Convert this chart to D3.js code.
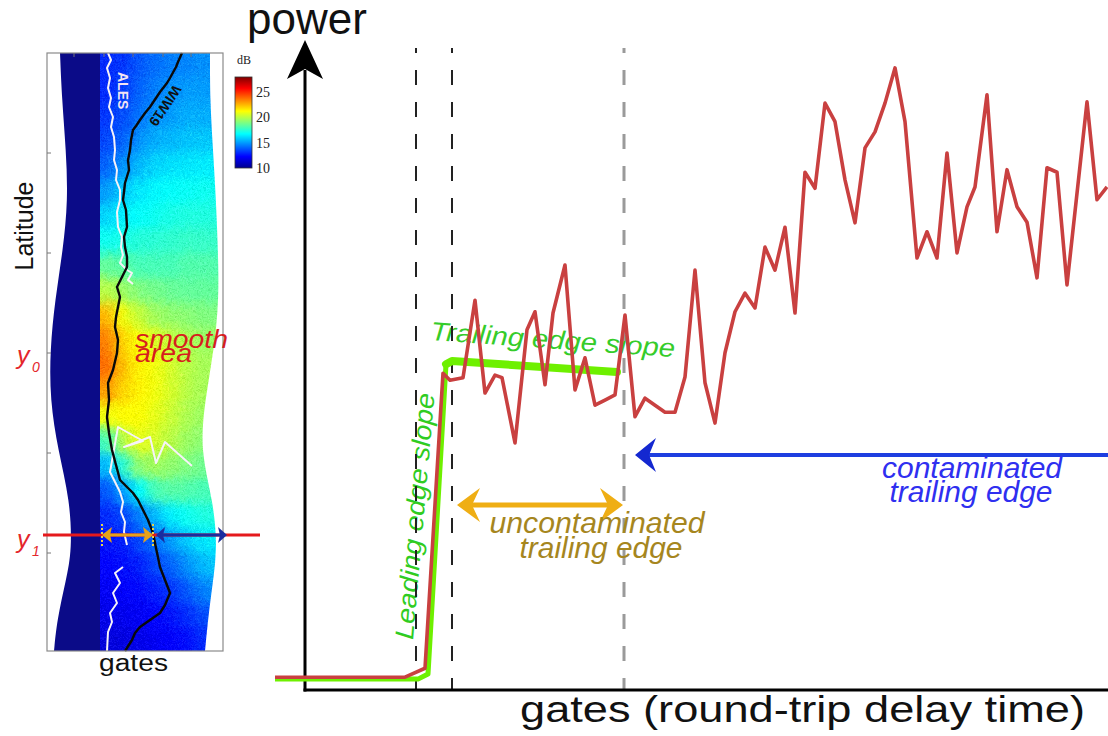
<!DOCTYPE html>
<html>
<head>
<meta charset="utf-8">
<script src="https://cdn.jsdelivr.net/npm/d3@7"></script>
<style>
body{margin:0;background:#fff;}
svg{display:block;font-family:"Liberation Sans",Arial,sans-serif;}
</style>
</head>
<body>
<svg id="chart" width="1108" height="736"></svg>
<script>
/*
data
*/
// waveform (gate, power)
var wfGate = [-3, 10, 12, 13.8, 14.5, 15.8, 17, 18, 19, 19.7, 21, 22.2, 23, 24, 24.8, 26, 27, 28, 29, 30,
  31, 32, 33, 34, 36, 37, 38, 39, 40, 41, 42, 43, 44, 45, 46, 47, 48, 49, 50, 51,
  52, 53, 54, 55, 56, 57, 58, 59, 60, 61.2, 62.2, 63.2, 64.2, 65.2, 66.2, 67, 68.2, 69.2, 70.2, 71.2,
  72.2, 73.2, 74.2, 75.2, 76.2, 78.2, 79.2, 80.2];
var wfPower = [2.0, 2.0, 3.4, 49.5, 48.4, 48.8, 60.9, 46.4, 49.2, 48.8, 38.6, 56.3, 59.1, 47.7, 58.9, 66.4, 46.9, 51.9, 44.5, 45.3,
  46.1, 58.6, 42.7, 45.6, 43.4, 43.4, 48.9, 65.6, 48.0, 41.7, 52.7, 59.1, 62.0, 59.7, 69.2, 65.6, 72.3, 58.9, 80.9, 78.4,
  91.7, 88.8, 79.7, 73.0, 84.7, 87.2, 91.7, 97.2, 88.8, 67.5, 71.6, 67.5, 83.9, 68.3, 75.5, 78.6, 93.0, 71.6, 81.3, 75.5,
  73.1, 64.4, 81.6, 80.9, 63.3, 91.9, 76.6, 78.6];

// fitted leading / trailing edge
var fitGate = [-3, 11.3, 12.3, 14.1, 14.7, 31.2];
var fitPower = [1.7, 1.7, 2.5, 50.9, 51.4, 49.7];

// vertical gate marks
var markGates = [11.1, 14.7, 31.9];

// range arrows
var unconGates = [15.2, 31.8], unconPower = 28.9;
var contGates = [33.0, 80.5], contPower = 36.7;

// radargram swath edges (record, gate)
var navyEdgeRec = [0, 47, 97, 147, 197, 247, 297, 347, 397, 447, 497, 527, 567, 598];
var navyEdgeGate = [6.5, 7.5, 9.5, 10.5, 8, 4, 1.5, 1.5, 5.5, 11.5, 12.5, 9.5, 5, 3.5];
var navyGate = 26.5;
var swathEdgeRec = [0, 47, 97, 147, 197, 247, 297, 347, 397, 447, 497, 547, 598];
var swathEdgeGate = [81.5, 81.5, 83, 84.5, 85.5, 86, 83.5, 79, 76.5, 83, 85.5, 81.5, 79];

// radargram power (dB) on a coarse grid
var dbCols = [30, 38, 46, 54, 62, 70, 78, 86];
var dbRows = [12.5, 37.5, 62.5, 87.5, 112.5, 137.5, 162.5, 187.5, 212.5, 237.5, 262.5, 287.5,
  312.5, 337.5, 362.5, 387.5, 412.5, 437.5, 462.5, 487.5, 512.5, 537.5, 562.5, 587.5];
var dbValues = [
  [13.0, 13.2, 13.8, 14.2, 14.5, 14.6, 14.8, 14.8],
  [13.0, 13.3, 14.0, 14.5, 14.8, 15.0, 15.0, 15.0],
  [13.2, 13.6, 14.3, 14.8, 15.0, 15.3, 15.3, 15.3],
  [13.5, 14.0, 14.8, 15.3, 15.5, 15.7, 15.8, 15.8],
  [14.0, 14.8, 15.5, 16.0, 16.2, 16.3, 16.4, 16.4],
  [15.0, 15.8, 16.3, 16.6, 16.8, 16.9, 17.0, 17.0],
  [16.0, 16.5, 16.8, 17.0, 17.2, 17.3, 17.3, 17.3],
  [17.0, 17.2, 17.4, 17.5, 17.6, 17.7, 17.7, 17.7],
  [18.5, 18.3, 18.0, 18.0, 18.0, 18.2, 18.2, 18.2],
  [20.0, 19.5, 19.0, 18.8, 18.6, 18.5, 18.5, 18.5],
  [22.5, 21.0, 20.2, 19.6, 19.3, 19.2, 19.0, 19.0],
  [23.5, 22.0, 21.2, 20.6, 20.2, 19.8, 19.5, 19.5],
  [23.8, 22.3, 21.5, 21.0, 20.5, 20.0, 19.7, 19.7],
  [23.0, 22.0, 21.5, 21.0, 20.5, 20.0, 19.7, 19.7],
  [21.0, 21.3, 21.2, 20.8, 20.3, 19.8, 19.5, 19.5],
  [18.0, 20.0, 20.8, 20.5, 20.0, 19.5, 19.2, 19.2],
  [15.5, 17.5, 19.3, 19.6, 19.3, 19.0, 18.7, 18.7],
  [13.8, 15.0, 16.8, 18.0, 18.3, 18.2, 18.0, 18.0],
  [13.0, 13.5, 14.5, 15.5, 16.5, 17.0, 17.3, 17.3],
  [12.6, 12.8, 13.5, 14.2, 15.0, 15.8, 16.3, 16.5],
  [12.3, 12.5, 12.8, 13.5, 14.0, 14.8, 15.5, 15.8],
  [12.0, 12.2, 12.4, 12.8, 13.2, 13.8, 14.5, 14.8],
  [11.8, 11.9, 12.0, 12.3, 12.6, 13.0, 13.6, 13.8],
  [11.5, 11.6, 11.8, 12.0, 12.2, 12.5, 13.0, 13.0]
];

// retracker tracks (gate, record)
var wiwGate = [67.5, 65.5, 64.5, 61.5, 60, 56.5, 51.5, 49, 46.5, 44.5, 43, 42, 41.5, 40.5, 41, 39, 38.5, 38, 39.5, 40,
  38.5, 39, 40, 40, 37.5, 35, 36.5, 35.5, 34.5, 34, 35.5, 35, 33, 30.5, 31, 30, 31, 32.5, 34.5, 36.5,
  40.5, 43, 45.5, 48, 50.5, 53, 54.5, 56.5, 59, 61.5, 59, 56.5, 51.5, 46.5, 44, 42.5, 39];
var wiwRec = [0, 9, 14, 25, 30, 39, 54, 60, 67, 73, 77, 87, 97, 107, 117, 130, 139, 147, 157, 174,
  184, 194, 204, 214, 224, 234, 244, 254, 264, 274, 287, 300, 317, 330, 347, 364, 380, 397, 412, 427,
  435, 440, 447, 457, 467, 480, 495, 514, 527, 540, 552, 560, 567, 574, 580, 587, 598];
var alesGateA = [30.5, 32, 30, 31.5, 30.5, 32, 31, 33, 32, 33.5, 34, 33.5, 35, 34.5, 36.5, 36.5, 35, 35.5, 37.5, 37, 38, 36.5, 40, 42.5, 40.5, 43];
var alesRecA = [0, 7, 15, 25, 35, 45, 54, 64, 74, 84, 97, 107, 117, 127, 137, 147, 159, 174, 184, 194, 202, 210, 217, 220, 227, 231];
var alesGateB = [72.5, 59, 54.5, 51.5, 38.5, 48, 35.5, 31.5, 34, 36.5, 38, 37, 39, 38.5, 40];
var alesRecB = [413, 389, 410, 384, 394, 388, 374, 419, 429, 439, 449, 459, 469, 479, 492];
var alesGateC = [38, 34, 36.5, 33, 35, 31.5, 32.5, 30.5, 30];
var alesRecC = [514, 520, 530, 540, 550, 560, 569, 579, 598];

// panel marks
var latTicks = [100, 200, 300, 400, 500];
var gateTicks = [13.5, 28.5, 43, 58, 72];
var y0Rec = 302, y1Rec = 482;
var swathUncon = [27.5, 53], swathCont = [54.5, 90];

// colour bar
var cbDomain = [10, 28];
var cbTicks = [10, 15, 20, 25];

var svg = d3.select("#chart");
var defs = svg.append("defs");

// jet colour map
var jet = d3.scaleLinear()
  .domain([10, 12.25, 16.75, 21.25, 25.75, 28])
  .range(["#00008f", "#0000ff", "#00ffff", "#ffff00", "#ff0000", "#800000"])
  .clamp(true);

/*
left panel: radargram
*/
var px = d3.scaleLinear().domain([0, 88]).range([47, 223]);
var py = d3.scaleLinear().domain([0, 598]).range([53, 651]);

var swathArea = d3.area().curve(d3.curveBasis)
  .y(function(d, i){ return py(swathEdgeRec[i]); })
  .x0(px(navyGate - 2))
  .x1(function(d, i){ return px(swathEdgeGate[i]); });
defs.append("clipPath").attr("id", "swathClip")
  .append("path").attr("d", swathArea(swathEdgeRec));

// blur the coarse grid, then add speckle
var flt = defs.append("filter").attr("id", "speckle")
  .attr("color-interpolation-filters", "sRGB")
  .attr("x", "-10%").attr("y", "-10%").attr("width", "120%").attr("height", "120%");
flt.append("feGaussianBlur").attr("in", "SourceGraphic").attr("stdDeviation", 6).attr("result", "blur");
flt.append("feTurbulence").attr("type", "fractalNoise").attr("baseFrequency", 0.7)
  .attr("numOctaves", 1).attr("seed", 5).attr("result", "noise");
flt.append("feColorMatrix").attr("in", "noise").attr("type", "matrix")
  .attr("values", "1 0 0 0 0 1 0 0 0 0 1 0 0 0 0 0 0 0 0 1").attr("result", "gnoise");
flt.append("feComposite").attr("in", "blur").attr("in2", "gnoise").attr("operator", "arithmetic")
  .attr("k1", 0).attr("k2", 1).attr("k3", 0.3).attr("k4", -0.15).attr("result", "spk");
flt.append("feTurbulence").attr("type", "fractalNoise").attr("baseFrequency", 0.15)
  .attr("numOctaves", 2).attr("seed", 2).attr("result", "warp");
flt.append("feDisplacementMap").attr("in", "spk").attr("in2", "warp").attr("scale", 8)
  .attr("xChannelSelector", "R").attr("yChannelSelector", "G");

var heat = svg.append("g").attr("clip-path", "url(#swathClip)")
  .append("g").attr("filter", "url(#speckle)");
dbValues.forEach(function(row, r){
  row.forEach(function(v, c){
    var g0 = c == 0 ? dbCols[c] - 12 : dbCols[c] - 4;
    var g1 = c == row.length - 1 ? dbCols[c] + 12 : dbCols[c] + 4;
    var r0 = r == 0 ? dbRows[r] - 30 : dbRows[r] - 12.5;
    var r1 = r == dbRows.length - 1 ? dbRows[r] + 30 : dbRows[r] + 12.5;
    heat.append("rect")
      .attr("x", px(g0)).attr("y", py(r0))
      .attr("width", px(g1) - px(g0) + 0.5).attr("height", py(r1) - py(r0) + 0.5)
      .attr("fill", jet(v));
  });
});

var navyArea = d3.area().curve(d3.curveBasis)
  .y(function(d, i){ return py(navyEdgeRec[i]); })
  .x0(function(d, i){ return px(navyEdgeGate[i]); })
  .x1(px(navyGate));
svg.append("path").attr("d", navyArea(navyEdgeRec)).attr("fill", "#0b0b88");

// tracks
var trackLine = function(gs, rs){
  return d3.line().x(function(d, i){ return px(gs[i]); }).y(function(d, i){ return py(rs[i]); })(gs);
};
[[alesGateA, alesRecA], [alesGateB, alesRecB], [alesGateC, alesRecC]].forEach(function(s){
  svg.append("path").attr("d", trackLine(s[0], s[1]))
    .attr("fill", "none").attr("stroke", "#f6f2f8").attr("stroke-width", 2).attr("stroke-linejoin", "round");
});
svg.append("path").attr("d", trackLine(wiwGate, wiwRec))
  .attr("fill", "none").attr("stroke", "#0a0a0a").attr("stroke-width", 2.4).attr("stroke-linejoin", "round");

svg.append("text").attr("transform", "translate(118,72) rotate(90)")
  .attr("font-size", 14).attr("font-weight", "bold").attr("fill", "#f2e4f2").text("ALES");
svg.append("text").attr("transform", "translate(174,84) rotate(124)")
  .attr("font-size", 14).attr("font-weight", "bold").attr("fill", "#111").text("WIW19");

// frame + ticks
svg.append("rect").attr("x", px(0)).attr("y", py(0))
  .attr("width", px(88) - px(0)).attr("height", py(598) - py(0))
  .attr("fill", "none").attr("stroke", "#8a8a8a").attr("stroke-width", 1.2);
svg.selectAll(".latTick").data(latTicks).enter().append("line")
  .attr("x1", px(0)).attr("x2", px(0) + 4)
  .attr("y1", function(d){ return py(d); }).attr("y2", function(d){ return py(d); })
  .attr("stroke", "#777").attr("stroke-width", 1);
svg.selectAll(".gateTick").data(gateTicks).enter().append("line")
  .attr("x1", function(d){ return px(d); }).attr("x2", function(d){ return px(d); })
  .attr("y1", py(0)).attr("y2", py(0) + 4)
  .attr("stroke", "#777").attr("stroke-width", 1);

// "smooth area"
svg.append("text").attr("x", 135).attr("y", 348).attr("font-size", 26).attr("font-style", "italic")
  .attr("textLength", 93).attr("lengthAdjust", "spacingAndGlyphs").attr("fill", "#d61e1e").text("smooth");
svg.append("text").attr("x", 135).attr("y", 362).attr("font-size", 26).attr("font-style", "italic")
  .attr("textLength", 57).attr("lengthAdjust", "spacingAndGlyphs").attr("fill", "#d61e1e").text("area");

// y1 line and arrows
svg.append("line").attr("x1", 43).attr("x2", 260).attr("y1", py(y1Rec)).attr("y2", py(y1Rec))
  .attr("stroke", "#e5191c").attr("stroke-width", 3);

function arrowHead(x, y, dir, len, half, notch){
  var bx = x - dir * len;
  return "M" + x + "," + y + "L" + bx + "," + (y - half) + "L" + (bx + dir * notch) + "," + y +
    "L" + bx + "," + (y + half) + "Z";
}

swathUncon.forEach(function(g){
  svg.append("line").attr("x1", px(g)).attr("x2", px(g)).attr("y1", py(y1Rec) - 11).attr("y2", py(y1Rec) + 11)
    .attr("stroke", "#e6d24a").attr("stroke-width", 2).attr("stroke-dasharray", "2,2");
});
var ya = py(y1Rec);
svg.append("line").attr("x1", px(swathUncon[0]) + 6).attr("x2", px(swathUncon[1]) - 6)
  .attr("y1", ya).attr("y2", ya).attr("stroke", "#e5a21a").attr("stroke-width", 3);
svg.append("path").attr("d", arrowHead(px(swathUncon[0]), ya, -1, 10, 8, 2)).attr("fill", "#e5a21a");
svg.append("path").attr("d", arrowHead(px(swathUncon[1]), ya, 1, 10, 8, 2)).attr("fill", "#e5a21a");
svg.append("line").attr("x1", px(swathCont[0]) + 6).attr("x2", px(swathCont[1]) - 6)
  .attr("y1", ya).attr("y2", ya).attr("stroke", "#1a2ca0").attr("stroke-width", 3);
svg.append("path").attr("d", arrowHead(px(swathCont[0]), ya, -1, 9, 8, 2)).attr("fill", "#1a2ca0");
svg.append("path").attr("d", arrowHead(px(swathCont[1]), ya, 1, 9, 8, 2)).attr("fill", "#1a2ca0");

// y0 / y1 labels
var yLab = [[y0Rec, "0", 9], [y1Rec, "1", 13]];
yLab.forEach(function(m){
  var base = py(m[0]) + m[2];
  svg.append("text").attr("x", 17).attr("y", base).attr("font-size", 25).attr("font-style", "italic")
    .attr("fill", "#e4262b").text("y");
  svg.append("text").attr("x", 32).attr("y", base + 8).attr("font-size", 14).attr("font-style", "italic")
    .attr("fill", "#e4262b").text(m[1]);
});

svg.append("text").attr("transform", "translate(33,226) rotate(-90)").attr("text-anchor", "middle")
  .attr("font-size", 25).attr("fill", "#111").text("Latitude");
svg.append("text").attr("x", 99).attr("y", 671).attr("font-size", 23)
  .attr("textLength", 69).attr("lengthAdjust", "spacingAndGlyphs").attr("fill", "#111").text("gates");

// colour bar
var cbY = d3.scaleLinear().domain(cbDomain).range([168, 77]);
var grad = defs.append("linearGradient").attr("id", "jetGrad")
  .attr("x1", 0).attr("y1", 1).attr("x2", 0).attr("y2", 0);
jet.domain().forEach(function(v){
  grad.append("stop").attr("offset", (v - cbDomain[0]) / (cbDomain[1] - cbDomain[0])).attr("stop-color", jet(v));
});
svg.append("rect").attr("x", 235).attr("y", cbY(cbDomain[1])).attr("width", 17)
  .attr("height", cbY(cbDomain[0]) - cbY(cbDomain[1]))
  .attr("fill", "url(#jetGrad)").attr("stroke", "#333").attr("stroke-width", 0.8);
svg.selectAll(".cbTick").data(cbTicks).enter().append("text")
  .attr("x", 256).attr("y", function(d){ return cbY(d) + 5; })
  .attr("font-family", "'Liberation Serif',serif").attr("font-size", 14).attr("fill", "#222")
  .text(function(d){ return d; });
svg.append("text").attr("x", 237).attr("y", 64).attr("font-family", "'Liberation Serif',serif")
  .attr("font-size", 12).attr("fill", "#222").text("dB");

/*
right panel: waveform
*/
var mx = d3.scaleLinear().domain([0, 80]).range([305, 1105]);
var my = d3.scaleLinear().domain([0, 100]).range([690, 50]);

// text under the marks
svg.append("text").attr("transform", "translate(430,340) rotate(4)")
  .attr("font-size", 26).attr("font-style", "italic").attr("fill", "#35cc2a")
  .attr("textLength", 245).attr("lengthAdjust", "spacingAndGlyphs").text("Trailing edge slope");
svg.append("text").attr("transform", "translate(413,640) rotate(-85)")
  .attr("font-size", 26).attr("font-style", "italic").attr("fill", "#2fcc22")
  .attr("textLength", 247).attr("lengthAdjust", "spacingAndGlyphs").text("Leading edge slope");

// gate marks
svg.selectAll(".mark").data(markGates).enter().append("line")
  .attr("x1", function(d){ return mx(d); }).attr("x2", function(d){ return mx(d); })
  .attr("y1", 48).attr("y2", my(0))
  .attr("stroke", function(d, i){ return i == 2 ? "#9a9a9a" : "#222"; })
  .attr("stroke-width", function(d, i){ return i == 2 ? 3 : 2; })
  .attr("stroke-dasharray", "15,17").attr("stroke-dashoffset", 10);

// axes
svg.append("line").attr("x1", mx(0)).attr("x2", mx(0)).attr("y1", my(0) + 1.5).attr("y2", 70)
  .attr("stroke", "#000").attr("stroke-width", 3);
svg.append("path").attr("d", "M305,40L287,79L305,69L323,79Z").attr("fill", "#000");
svg.append("line").attr("x1", mx(0) - 1.5).attr("x2", 1108).attr("y1", my(0)).attr("y2", my(0))
  .attr("stroke", "#000").attr("stroke-width", 3);

// fitted edges
var fitLine = d3.line().x(function(d, i){ return mx(fitGate[i]); }).y(function(d, i){ return my(fitPower[i]); });
svg.append("path").attr("d", fitLine(fitGate.slice(0, 5)))
  .attr("fill", "none").attr("stroke", "#6ef000").attr("stroke-width", 5).attr("stroke-linejoin", "round");
svg.append("path").attr("d", d3.line().x(function(d, i){ return mx(fitGate[i + 3]); })
    .y(function(d, i){ return my(fitPower[i + 3]); })(fitGate.slice(3)))
  .attr("fill", "none").attr("stroke", "#6ef000").attr("stroke-width", 8)
  .attr("stroke-linejoin", "round").attr("stroke-linecap", "round");

// waveform
var wfLine = d3.line().x(function(d, i){ return mx(wfGate[i]); }).y(function(d, i){ return my(wfPower[i]); });
svg.append("path").attr("d", wfLine(wfGate))
  .attr("fill", "none").attr("stroke", "#c94040").attr("stroke-width", 3.6).attr("stroke-linejoin", "round");

// range arrows
var uy = my(unconPower);
svg.append("line").attr("x1", mx(unconGates[0]) + 12).attr("x2", mx(unconGates[1]) - 12)
  .attr("y1", uy).attr("y2", uy).attr("stroke", "#efae14").attr("stroke-width", 5);
svg.append("path").attr("d", arrowHead(mx(unconGates[0]), uy, -1, 23, 17, 8)).attr("fill", "#efae14");
svg.append("path").attr("d", arrowHead(mx(unconGates[1]), uy, 1, 23, 17, 8)).attr("fill", "#efae14");

var cy = my(contPower);
svg.append("line").attr("x1", mx(contGates[0]) + 12).attr("x2", mx(contGates[1]))
  .attr("y1", cy).attr("y2", cy).attr("stroke", "#1e3ee0").attr("stroke-width", 4);
svg.append("path").attr("d", arrowHead(mx(contGates[0]), cy, -1, 21, 17, 7)).attr("fill", "#1428d0");

svg.append("text").attr("x", 597).attr("y", 533).attr("text-anchor", "middle")
  .attr("font-size", 29).attr("font-style", "italic").attr("fill", "#a6861e")
  .attr("textLength", 215).attr("lengthAdjust", "spacingAndGlyphs").text("uncontaminated");
svg.append("text").attr("x", 601).attr("y", 558).attr("text-anchor", "middle")
  .attr("font-size", 29).attr("font-style", "italic").attr("fill", "#a6861e")
  .attr("textLength", 163).attr("lengthAdjust", "spacingAndGlyphs").text("trailing edge");
svg.append("text").attr("x", 972).attr("y", 478).attr("text-anchor", "middle")
  .attr("font-size", 29).attr("font-style", "italic").attr("fill", "#2f2ff0")
  .attr("textLength", 180).attr("lengthAdjust", "spacingAndGlyphs").text("contaminated");
svg.append("text").attr("x", 971).attr("y", 502).attr("text-anchor", "middle")
  .attr("font-size", 29).attr("font-style", "italic").attr("fill", "#2f2ff0")
  .attr("textLength", 163).attr("lengthAdjust", "spacingAndGlyphs").text("trailing edge");

// axis titles
svg.append("text").attr("x", 247).attr("y", 34).attr("font-size", 44).attr("fill", "#111").text("power");
svg.append("text").attr("x", 520).attr("y", 722).attr("font-size", 36).attr("fill", "#111")
  .attr("textLength", 565).attr("lengthAdjust", "spacingAndGlyphs").text("gates (round-trip delay time)");
</script>
</body>
</html>
